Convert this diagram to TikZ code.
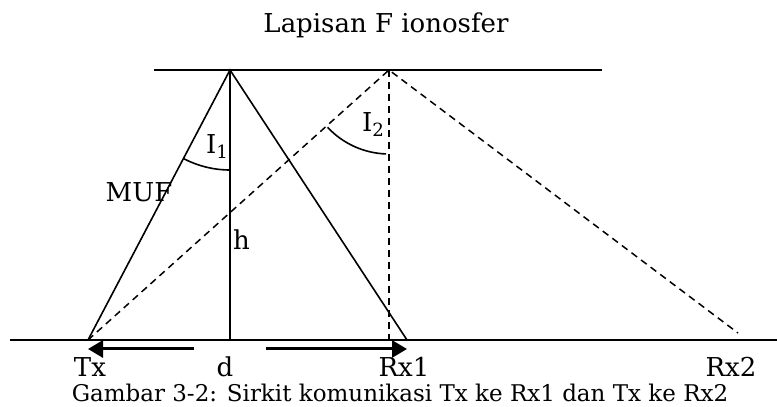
\documentclass[tikz,border=0pt]{standalone}
\usepackage{fontspec}
\setmainfont{DejaVu Serif}
\usetikzlibrary{arrows.meta}

\tikzset{
  ray/.style={line width=1.6pt},
  layer/.style={line width=2.2pt},
  hop/.style={line width=1.5pt, dash pattern=on 7pt off 5pt},
  dist/.style={line width=3pt, -{Triangle[length=15pt,width=17pt]}},
  lbl/.style={font=\fontsize{26}{28}\selectfont, inner sep=0pt},
  captxt/.style={font=\fontsize{23}{25}\selectfont, inner sep=0pt},
}

\begin{document}
\begin{tikzpicture}[x=1pt,y=1pt]
  \useasboundingbox (0,0) rectangle (777,407);

  \coordinate (a1) at (230,337);
  \coordinate (a2) at (389,337);
  \coordinate (tx) at (88,67);
  \coordinate (rx1) at (407,67);
  \coordinate (rx2) at (738,74);
  \coordinate (f1) at (230,67);
  \coordinate (f2) at (389,67);
  \coordinate (gl) at (10,67);
  \coordinate (gr) at (777,67);
  \coordinate (tl) at (154,337);
  \coordinate (tr) at (602,337);
  \coordinate (dl) at (194,58);
  \coordinate (dr) at (266,58);
  \coordinate (txa) at (88,58);
  \coordinate (rxa) at (407,58);

  \node[lbl, anchor=base] (iono) at (386,374) {Lapisan F ionosfer};
  \node[lbl, anchor=base] (ltx) at (90,30) {Tx};
  \node[lbl, anchor=base] (ld) at (225,30) {d};
  \node[lbl, anchor=base] (lrx1) at (404,30) {Rx1};
  \node[lbl, anchor=base] (lrx2) at (731,30) {Rx2};
  \node[lbl, anchor=base] (muf) at (139,205) {MUF};
  \node[lbl, anchor=base west] (h) at (233,157) {h};
  \node[lbl, anchor=base west] (i1) at (206,253) {I\textsubscript{1}};
  \node[lbl, anchor=base west] (i2) at (362,275) {I\textsubscript{2}};
  \node[captxt, anchor=base] (fig) at (400,5) {Gambar 3-2: Sirkit komunikasi Tx ke Rx1 dan Tx ke Rx2};

  \draw[layer] (tl) -- (tr);
  \draw[layer] (gl) -- (gr);
  \draw[ray] (tx) -- (a1) -- (rx1);
  \draw[ray] (a1) -- (f1);
  \draw[hop] (tx) -- (a2) -- (rx2);
  \draw[hop] (a2) -- (f2);
  \draw[ray] (a1) ++(242:100) arc[start angle=242, end angle=270, radius=100];
  \draw[ray] (a2) ++(223:84) arc[start angle=223, end angle=268, radius=84];
  \draw[dist] (dl) -- (txa);
  \draw[dist] (dr) -- (rxa);
\end{tikzpicture}
\end{document}
